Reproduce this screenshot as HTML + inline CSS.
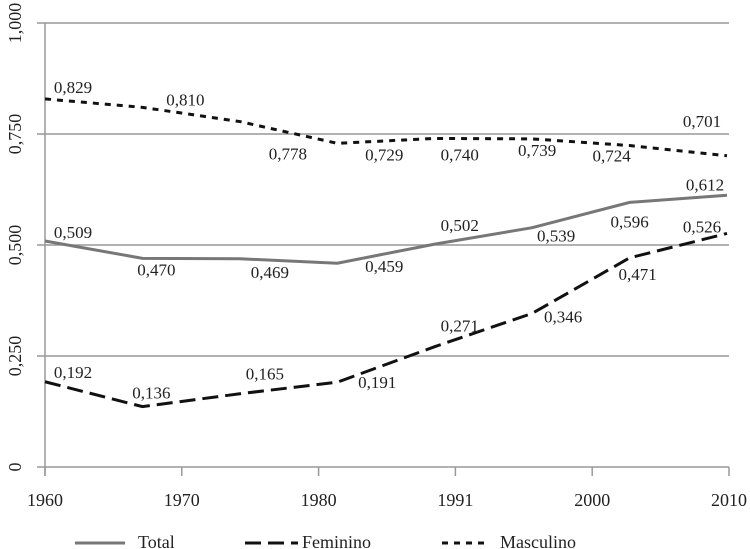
<!DOCTYPE html>
<html><head><meta charset="utf-8"><style>
body{margin:0;background:#fff}
svg{display:block;font-family:"Liberation Serif",serif}
</style></head><body>
<svg id="chart" width="750" height="549" viewBox="0 0 750 549" xmlns="http://www.w3.org/2000/svg"></svg>
<script>
const categories = ['1960','1970','1980','1991','2000','2010'];
const yTicks = [0, 0.25, 0.5, 0.75, 1.0];
const yTickLabels = ['0','0,250','0,500','0,750','1,000'];
const totalValues = [0.509,0.470,0.469,0.459,0.502,0.539,0.596,0.612];
const femininoValues = [0.192,0.136,0.165,0.191,0.271,0.346,0.471,0.526];
const masculinoValues = [0.829,0.810,0.778,0.729,0.740,0.739,0.724,0.701];
const NS='http://www.w3.org/2000/svg';
const svg=document.getElementById('chart');
const X0=45,X1=729,Y0=467,Y1=23;
const nPts=totalValues.length;
function xPt(i){return 45+i*(727-45)/(nPts-1);}
function xCat(i){return X0+i*(X1-X0)/(categories.length-1);}
function y(v){return Y0-v*(Y0-Y1);}
function mk(tag,attrs){const e=document.createElementNS(NS,tag);for(const k in attrs)e.setAttribute(k,attrs[k]);svg.appendChild(e);return e;}
yTicks.forEach((t,i)=>{
  const l=mk('line',{x1:X0-8,x2:X1,y1:y(t),y2:y(t),stroke:'#999','stroke-width':1.5});
  
  
  const tx=mk('text',{x:0,y:0,'font-size':18,fill:'#222','text-anchor':'middle',transform:`translate(21,${y(t)}) rotate(-90)`});
  tx.textContent=yTickLabels[i];
  
  
});
const ax=mk('line',{x1:X0,x2:X0,y1:Y1,y2:Y0+9,stroke:'#999','stroke-width':1.5});


categories.forEach((c,i)=>{
  const t=mk('line',{x1:xCat(i),x2:xCat(i),y1:Y0,y2:Y0+9,stroke:'#999','stroke-width':1.5});
  
  
  const tx=mk('text',{x:xCat(i),y:506,'font-size':18,fill:'#222','text-anchor':'middle'});
  tx.textContent=c;
  
  
});
const series=[
 {name:'total',vals:totalValues,stroke:'#777',dash:'',off:[[28,-3],[14,17],[30,19],[47,9],[25,-13],[24,14],[0,25],[-22,-5]]},
 {name:'feminino',vals:femininoValues,stroke:'#111',dash:'16 7',off:[[28,-4],[9,-8],[25,-14],[40,6],[25,-15],[31,9],[8,22],[-25,-1]]},
 {name:'masculino',vals:masculinoValues,stroke:'#111',dash:'6 6',off:[[28,-6],[43,-2],[48,38],[47,17],[25,22],[5,17],[-18,16],[-25,-29]]}
];
series.forEach(s=>{
  const p=mk('polyline',{points:s.vals.map((v,i)=>xPt(i)+','+y(v)).join(' '),fill:'none',stroke:s.stroke,'stroke-width':3,'stroke-dasharray':s.dash});
  
  
  s.vals.forEach((v,i)=>{
    const t=mk('text',{x:xPt(i)+s.off[i][0],y:y(v)+s.off[i][1],'font-size':17,fill:'#222','text-anchor':'middle'});
    t.textContent=v.toFixed(3).replace('.',',');
    
    
  });
});
const legend=[['Total','#777','',75,125,138],['Feminino','#111','16 7',245,298,302],['Masculino','#111','6 6',442,490,500]];
legend.forEach(l=>{
  const ln=mk('line',{x1:l[3],x2:l[4],y1:543,y2:543,stroke:l[1],'stroke-width':3,'stroke-dasharray':l[2]});
  
  
  const t=mk('text',{x:l[5],y:548,'font-size':18,fill:'#222'});
  t.textContent=l[0];
  
  
});
</script>
</body></html>
